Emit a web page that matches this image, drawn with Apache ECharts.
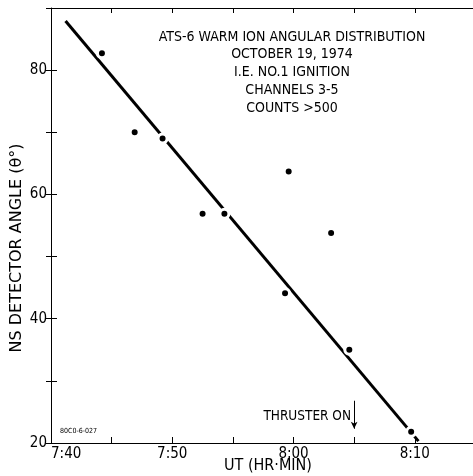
<!DOCTYPE html>
<html>
<head>
<meta charset="utf-8">
<script src="https://cdn.jsdelivr.net/npm/echarts@6/dist/echarts.min.js"></script>
<style>
  html, body { margin: 0; padding: 0; background: #fff; }
  #main { width: 473px; height: 476px; }
</style>
</head>
<body>
<div id="main"></div>
<script>
// minutes after 7:40 UT
var pointTime = [4.2, 6.9, 9.2, 12.5, 14.3, 19.6, 23.1, 19.3, 24.6, 29.7];
var pointAngle = [82.7, 70.0, 69.0, 56.9, 56.9, 63.7, 53.8, 44.1, 35.0, 21.8];
// fitted line end points
var fitTime = [1.2, 30.3];
var fitAngle = [87.9, 20.3];
// thruster-on marker
var thrusterTime = 25;
var thrusterArrow = [26.8, 22.3];
var titleLines = [
  'ATS-6 WARM ION ANGULAR DISTRIBUTION',
  'OCTOBER 19, 1974',
  'I.E. NO.1 IGNITION',
  'CHANNELS 3-5',
  'COUNTS >500'
];

var FONT = "'DejaVu Sans Condensed', 'Liberation Sans Narrow', 'DejaVu Sans', sans-serif";
var WIDE = "'DejaVu Sans', sans-serif";

function timeLabel(v) {
  if (v % 10 !== 0 || v >= 34) return '';
  var m = 40 + v;
  var h = 7 + Math.floor(m / 60);
  var mm = m % 60;
  return h + ':' + (mm < 10 ? '0' + mm : mm);
}

var chart = echarts.init(document.getElementById('main'));

var axisLine = { show: true, lineStyle: { color: '#000', width: 1 } };

var titleGraphics = titleLines.map(function (t, i) {
  return {
    type: 'text', x: 292, y: 37 + i * 17.8,
    style: { text: t, fill: '#000', font: '14px ' + FONT, align: 'center', verticalAlign: 'middle' }
  };
});

chart.setOption({
  backgroundColor: '#fff',
  animation: false,
  grid: { left: 51, top: 8, right: 0, bottom: 33 },
  xAxis: [{
    type: 'value', min: 0, max: 34.8, interval: 5,
    axisLine: axisLine,
    axisTick: { inside: true, length: 6, lineStyle: { color: '#000' } },
    axisLabel: { formatter: timeLabel, color: '#000', fontSize: 15, fontFamily: FONT, margin: 4, alignMinLabel: 'left', showMaxLabel: false },
    splitLine: { show: false }
  }, {
    type: 'value', position: 'top', min: 0, max: 34.8, interval: 5,
    axisLine: axisLine,
    axisTick: { inside: true, length: 5, lineStyle: { color: '#000' } },
    axisLabel: { show: false },
    splitLine: { show: false }
  }],
  yAxis: [{
    type: 'value', min: 20, max: 90, interval: 10,
    axisLine: axisLine,
    axisTick: { inside: true, length: 6, lineStyle: { color: '#000' } },
    axisLabel: {
      formatter: function (v) { return v % 20 === 0 ? String(v) : ''; },
      color: '#000', fontSize: 15, fontFamily: FONT, margin: 4
    },
    splitLine: { show: false }
  }, {
    type: 'value', position: 'right', min: 20, max: 90, interval: 10,
    axisLine: { show: false },
    axisTick: { show: true, inside: true, length: 5, lineStyle: { color: '#000' } },
    axisLabel: { show: false },
    splitLine: { show: false }
  }],
  graphic: titleGraphics.concat([
    {
      type: 'text', x: 17, y: 248, rotation: Math.PI / 2,
      style: { text: 'NS DETECTOR ANGLE (\u03b8\u00b0)', fill: '#000', font: '16px ' + WIDE, align: 'center', verticalAlign: 'middle' }
    },
    {
      type: 'text', x: 268, y: 466,
      style: { text: 'UT (HR\u00b7MIN)', fill: '#000', font: '16px ' + FONT, align: 'center', verticalAlign: 'middle' }
    },
    {
      type: 'text', x: 351, y: 416,
      style: { text: 'THRUSTER ON', fill: '#000', font: '13.5px ' + FONT, align: 'right', verticalAlign: 'middle' }
    },
    {
      type: 'text', x: 60, y: 431,
      style: { text: '80C0-6-027', fill: '#000', font: '7px ' + FONT, align: 'left', verticalAlign: 'middle' }
    }
  ]),
  series: [{
    type: 'line',
    data: fitTime.map(function (t, i) { return [t, fitAngle[i]]; }),
    showSymbol: false,
    lineStyle: { color: '#000', width: 3 },
    z: 2,
    markLine: {
      silent: true,
      symbol: ['none', 'arrow'],
      symbolSize: [5, 7],
      label: { show: false },
      lineStyle: { color: '#000', width: 1, type: 'solid' },
      data: [[
        { coord: [thrusterTime, thrusterArrow[0]] },
        { coord: [thrusterTime, thrusterArrow[1]] }
      ]]
    }
  }, {
    type: 'scatter',
    data: pointTime.map(function (t, i) { return [t, pointAngle[i]]; }),
    symbolSize: 9,
    itemStyle: { color: '#000', borderColor: '#fff', borderWidth: 3, opacity: 1 },
    z: 3
  }]
});
</script>
</body>
</html>
